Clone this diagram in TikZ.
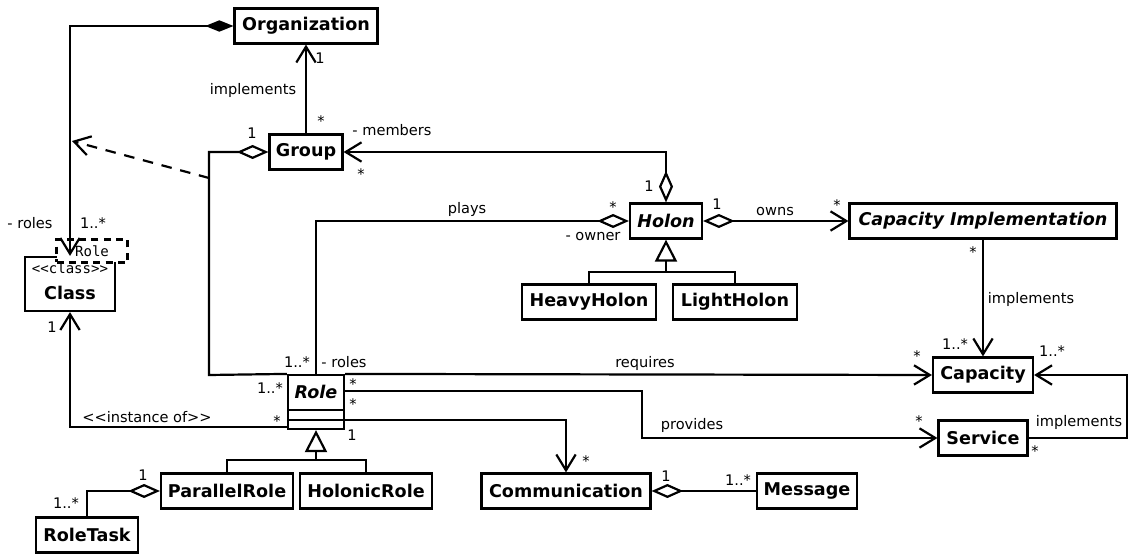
\documentclass[tikz,border=0pt]{standalone}
\usepackage{fontspec}
\setmainfont{DejaVu Sans}
\setmonofont{DejaVu Sans Mono}
\usetikzlibrary{arrows.meta}

\tikzset{
  box/.style={draw, line width=1.25pt, font=\fontsize{10}{12}\selectfont\bfseries,
    minimum height=0.7cm, inner sep=0pt},
  abstract/.style={font=\fontsize{10}{12}\selectfont\bfseries\itshape},
  mono/.style={font=\fontsize{8}{9}\selectfont\ttfamily\mdseries},
  lbl/.style={font=\fontsize{8.3}{10}\selectfont, inner sep=0pt},
  line/.style={line width=1.25pt},
  openv/.tip={Straight Barb[length=9pt,width=11pt]},
  aggdia/.tip={Diamond[open,length=18pt,width=8pt]},
  compdia/.tip={Diamond[length=16pt,width=6.5pt]},
  gentri/.tip={Triangle[open,length=12.5pt,width=12.5pt]}
}

\begin{document}
\begin{tikzpicture}[x=0.02cm, y=-0.02cm]
        \useasboundingbox (0,0) rectangle (1129,554);
        % classes
        \node[box, minimum width=2.86cm] (org) at (306,26) {Organization};
        \node[box, minimum width=1.46cm] (grp) at (306,152) {Group};
        \node[box, abstract, minimum width=1.44cm] (holon) at (666,221) {Holon};
        \node[box, abstract, minimum width=5.34cm] (capimpl) at (983,221) {Capacity Implementation};
        \node[box, minimum width=2.68cm] (heavy) at (589,302) {HeavyHolon};
        \node[box, minimum width=2.48cm] (light) at (735,302) {LightHolon};
        \node[box, minimum width=2cm] (capa) at (983,375) {Capacity};
        \node[box, minimum width=1.78cm] (serv) at (983,438) {Service};
        \node[box, minimum width=2.64cm] (prole) at (227,491) {ParallelRole};
        \node[box, minimum width=2.64cm] (hrole) at (366,491) {HolonicRole};
        \node[box, minimum width=2.04cm] (rtask) at (87,535) {RoleTask};
        \node[box, minimum width=3.38cm] (comm) at (566,491) {Communication};
        \node[box, minimum width=2cm] (msg) at (807,491) {Message};
        % Role with its empty compartments
        \node[box, minimum width=1.12cm, minimum height=1.08cm] (role) at (316,402) {};
        \node[abstract] (rolename) at (316,392) {Role};
        \draw[line] (288,410) -- (344,410) (288,420) -- (344,420);
        % template class
        \node[box, minimum width=1.8cm, minimum height=1.08cm] (cls) at (70,284) {};
        \node[mono] (clsstereo) at (70,268) {<{}<class>{}>};
        \node[box, draw=none] (clsname) at (70,293) {Class};
        \node[box, mono, dash pattern=on 4pt off 3pt, fill=white, minimum width=1.42cm,
            minimum height=0.46cm] (tmpl) at (92,251) {Role};
        % connectors
        \draw[line, compdia-openv] (org.west) -| (cls.north);
        \draw[line, -openv] (grp.north) -- (org.south);
        \coordinate (depfrom) at (209,178);
        \coordinate (depto) at (72,141);
        \draw[line, dash pattern=on 6pt off 5pt, -openv] (depfrom) -- (depto);
        \draw[line, aggdia-] (grp.west) -| (209,375) -- (role.north west);
        \draw[line, aggdia-openv] (holon.north) |- (grp.east);
        \draw[line, aggdia-] (holon.west) -| (role.north);
        \draw[line, aggdia-openv] (holon.east) -- (capimpl.west);
        \coordinate (hjoin) at (666,272);
        \draw[line, -gentri] (heavy.north) |- (hjoin) -- (holon.south);
        \draw[line] (light.north) |- (hjoin);
        \draw[line, -openv] (capimpl.south) -- (capa.north);
        \draw[line, -openv] (role.north east) -- (capa.west);
        \draw[line, -openv] ([yshift=-0.34cm]role.north east) -| (642,438) -- (serv.west);
        \draw[line, -openv] ([yshift=-0.92cm]role.north east) -| (comm.north);
        \draw[line, -openv] (serv.east) -- (1127,438) |- (capa.east);
        \draw[line, -openv] ([yshift=-1.06cm]role.north west) -| (cls.south);
        \coordinate (rjoin) at (316,460);
        \draw[line, -gentri] (prole.north) |- (rjoin) -- (role.south);
        \draw[line] (hrole.north) |- (rjoin);
        \draw[line, aggdia-] (prole.west) -| (rtask.north);
        \draw[line, aggdia-] (comm.east) -- (msg.west);
        % roles and multiplicities
        \foreach \x/\y/\t [count=\i] in {253/90/implements, 320/58/1, 321/121/*, 252/133/1,
            392/130/- members, 361/174/*, 649/186/1, 467/209/plays, 613/207/*,
            593/237/- owner, 717/204/1, 775/212/owns, 837/205/*, 973/252/*,
            1031/299/implements, 955/344/1..*, 1052/351/1..*, 917/356/*,
            645/363/requires, 344/362/- roles, 297/362/1..*, 30/223/- roles,
            93/223/1..*, 52/327/1, 270/388/1..*, 353/384/*, 353/404/*,
            {147/417/<{}<instance of>{}>}, 277/421/*, 352/435/1, 143/475/1,
            66/503/1..*, 586/461/*, 666/476/1, 738/480/1..*, 692/425/provides,
            919/421/*, 1079/422/implements, 1035/451/*}
        \node[lbl] (m\i) at (\x,\y) {\t};
\end{tikzpicture}
\end{document}
